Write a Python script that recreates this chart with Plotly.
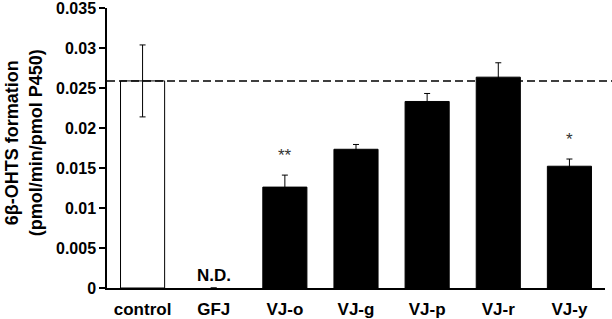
import plotly.graph_objects as go

categories = ["control", "GFJ", "VJ-o", "VJ-g", "VJ-p", "VJ-r", "VJ-y"]
values = [0.0259, 0.0, 0.01262, 0.01735, 0.02333, 0.02637, 0.01523]
errors = [0.0045, 0.0, 0.0015, 0.0006, 0.0010, 0.0018, 0.0009]
fill_colors = ["white", "white", "black", "black", "black", "black", "black"]
outline_widths = [1, 0, 1, 1, 1, 1, 1]
marks = ["", "N.D.", "**", "", "", "", "*"]
ytick_vals = [0, 0.005, 0.01, 0.015, 0.02, 0.025, 0.03, 0.035]
ytick_text = ["0", "0.005", "0.01", "0.015", "0.02", "0.025", "0.03", "0.035"]
control_ref = 0.0259

FONT = "Liberation Sans, Arial, sans-serif"

fig = go.Figure()
fig.add_trace(go.Bar(
    x=categories, y=values, width=0.62,
    marker=dict(color=fill_colors, line=dict(color="black", width=outline_widths)),
    error_y=dict(type="data", array=errors, visible=True, color="black",
                 thickness=1, width=3),
    showlegend=False, hoverinfo="skip",
))

# significance / N.D. annotations
for cat, v, e, m in zip(categories, values, errors, marks):
    if not m:
        continue
    if m == "N.D.":
        fig.add_annotation(x=cat, y=v, text="<b>N.D.</b>", showarrow=False,
                           yanchor="bottom", yshift=1,
                           font=dict(family=FONT, size=17, color="black"))
    else:
        fig.add_annotation(x=cat, y=v + e, text=m, showarrow=False,
                           yanchor="bottom", yshift=8,
                           font=dict(family=FONT, size=17, color="#333"))

# dashed reference line at control level
fig.add_shape(type="line", xref="paper", yref="y", x0=0, x1=1.02,
              y0=control_ref, y1=control_ref,
              line=dict(color="black", width=1.5, dash="8px,4px"))

# y-axis title
fig.add_annotation(xref="paper", yref="paper", x=-0.167, y=0.52,
                   xanchor="center", yanchor="middle",
                   text="<b>6β-OHTS formation<br>(pmol/min/pmol P450)</b>",
                   textangle=-90, showarrow=False,
                   font=dict(family=FONT, size=18, color="black"))

fig.update_layout(
    width=612, height=319,
    margin=dict(l=107, r=7, t=8, b=31),
    plot_bgcolor="white", paper_bgcolor="white",
    font=dict(family=FONT, size=17, color="black"),
)
fig.update_xaxes(showline=True, linecolor="black", linewidth=1.5,
                 ticks="", showgrid=False, zeroline=False, automargin=False,
                 tickfont=dict(family=FONT, size=17, color="black"),
                 ticklabelstandoff=5,
                 ticktext=["<b>%s</b>" % c for c in categories],
                 tickvals=categories)
fig.update_yaxes(range=[0, 0.03502], tickvals=ytick_vals,
                 ticktext=["<b>%s</b>" % t for t in ytick_text],
                 showline=True, linecolor="black", linewidth=1.5,
                 ticks="outside", ticklen=6, tickcolor="black", tickwidth=1.5,
                 showgrid=False, zeroline=False, automargin=False,
                 ticklabeloverflow="allow",
                 tickfont=dict(family=FONT, size=16, color="black"))

fig.write_html("out.html",
               config={"displayModeBar": False},
               post_script="document.body.style.margin='0px';"
                           "document.body.style.overflow='hidden';")
